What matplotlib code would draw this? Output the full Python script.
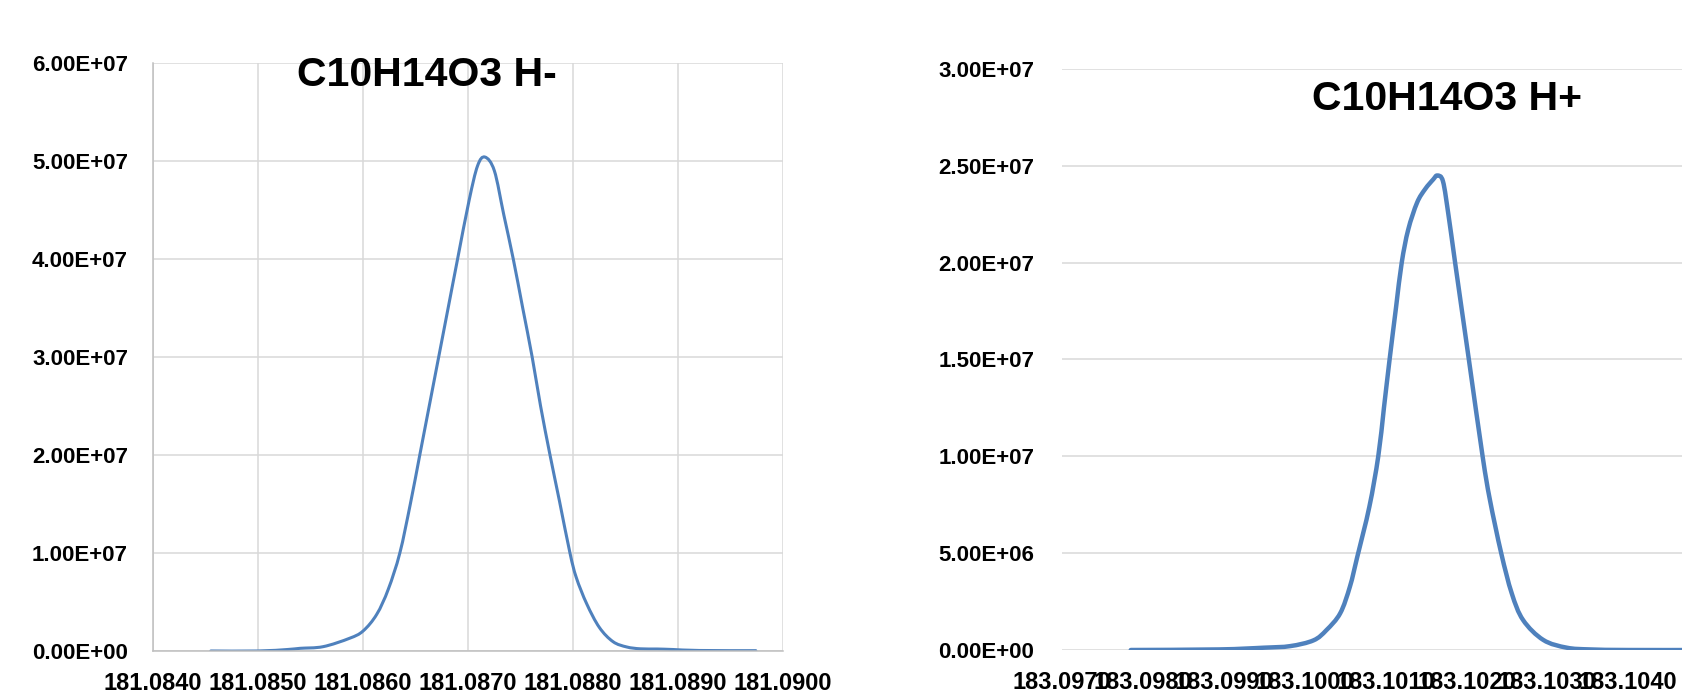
import matplotlib
matplotlib.use("Agg")
import matplotlib.pyplot as plt
from matplotlib.path import Path
from matplotlib.patches import PathPatch
from matplotlib.ticker import FuncFormatter, MultipleLocator
import numpy as np

plt.rcParams['font.family'] = ['Liberation Sans', 'DejaVu Sans']
plt.rcParams['font.weight'] = 'bold'

# negative mode peak (m/z, intensity)
mz_neg = [181.08455, 181.08500, 181.08528, 181.08540, 181.08562, 181.08587,
          181.08600, 181.08613, 181.08624, 181.08635, 181.08645, 181.08654,
          181.08663, 181.08672, 181.08681, 181.08690, 181.08701, 181.08709,
          181.08716, 181.08725, 181.08734, 181.08743, 181.08752, 181.08761,
          181.08769, 181.08778, 181.08787, 181.08797, 181.08803, 181.08813,
          181.08825, 181.08838, 181.08851, 181.08864, 181.08880, 181.08895,
          181.08920, 181.08974]
int_neg = [0, 0, 1.5e5, 2.7e5, 4.4e5, 1.29e6,
           2.04e6, 3.74e6, 6.3e6, 1.0e7, 1.5e7, 2.0e7,
           2.5e7, 3.0e7, 3.5e7, 4.0e7, 4.6e7, 4.95e7,
           5.04e7, 4.9e7, 4.45e7, 4.0e7, 3.5e7, 3.0e7,
           2.5e7, 2.0e7, 1.53e7, 1.0e7, 7.5e6, 4.8e6,
           2.4e6, 9.5e5, 4.1e5, 2.2e5, 2.0e5, 1.5e5,
           5e4, 3e4]

# positive mode peak
mz_pos = [183.09785, 183.09894, 183.09950, 183.09982, 183.10011, 183.10027,
          183.10044, 183.10056, 183.10065, 183.10080, 183.10091, 183.10098,
          183.10105, 183.10113, 183.10120, 183.10128, 183.10139, 183.10149,
          183.10159, 183.10164, 183.10171, 183.10178, 183.10186, 183.10203,
          183.10220, 183.10229, 183.10243, 183.10256, 183.10270, 183.10295,
          183.10324, 183.10353, 183.10400, 183.10490]
int_pos = [0, 3.0e4, 1.2e5, 2.0e5, 5.0e5, 1.03e6,
           1.9e6, 3.28e6, 4.8e6, 7.4e6, 1.0e7, 1.25e7,
           1.5e7, 1.77e7, 2.0e7, 2.17e7, 2.31e7, 2.38e7,
           2.43e7, 2.45e7, 2.42e7, 2.24e7, 2.0e7, 1.5e7,
           1.0e7, 7.76e6, 5.0e6, 2.93e6, 1.55e6, 5.2e5,
           1.2e5, 3e4, 0, 0]

titles = ["C10H14O3 H-", "C10H14O3 H+"]

blue = "#4F81BD"
grid_col = "#D9D9D9"


def smooth_line(ax, xs, ys, color, lw):
    # excel-like smoothed line: cubic bezier through the points (catmull-rom)
    x0, x1 = ax.get_xlim()
    y0, y1 = ax.get_ylim()
    p = np.column_stack([(np.asarray(xs) - x0) / (x1 - x0),
                         (np.asarray(ys) - y0) / (y1 - y0)])
    verts = [p[0]]
    codes = [Path.MOVETO]
    n = len(p)
    for i in range(n - 1):
        pm = p[i - 1] if i > 0 else p[i]
        pn = p[i + 2] if i + 2 < n else p[i + 1]
        c1 = p[i] + (p[i + 1] - pm) / 6
        c2 = p[i + 1] - (pn - p[i]) / 6
        verts += [c1, c2, p[i + 1]]
        codes += [Path.CURVE4] * 3
    patch = PathPatch(Path(verts, codes), transform=ax.transAxes,
                      fill=False, edgecolor=color, lw=lw,
                      capstyle='round', joinstyle='round')
    ax.add_patch(patch)


fig = plt.figure(figsize=(16.82, 6.94), dpi=100)

sci = FuncFormatter(lambda v, p: f"{v:.2E}")
mz_fmt = FuncFormatter(lambda v, p: f"{v:.4f}")

# left panel
ax1 = fig.add_axes([0.0910, 0.0620, 0.3746, 0.8473])
ax1.set_xlim(181.084, 181.090)
ax1.set_ylim(0, 6e7)
smooth_line(ax1, mz_neg, int_neg, blue, 2.2)
ax1.set_xticks(np.arange(181.084, 181.0901, 0.001))
ax1.yaxis.set_major_locator(MultipleLocator(1e7))
ax1.grid(True, color=grid_col, lw=1.1)
ax1.set_axisbelow(True)
for s in ['top', 'right']:
    ax1.spines[s].set_visible(False)
for s in ['left', 'bottom']:
    ax1.spines[s].set_color("#BFBFBF")
    ax1.spines[s].set_linewidth(1.1)

# right panel, runs past the right edge of the figure
ax2 = fig.add_axes([0.6314, 0.0634, 0.3847, 0.8372])
ax2.set_xlim(183.097, 183.105)
ax2.set_ylim(0, 3e7)
smooth_line(ax2, mz_pos, int_pos, blue, 3.2)
ax2.set_xticks(np.arange(183.097, 183.1041, 0.001))
ax2.yaxis.set_major_locator(MultipleLocator(5e6))
ax2.grid(True, axis='y', color=grid_col, lw=1.1)
ax2.set_axisbelow(True)
for s in ax2.spines.values():
    s.set_visible(False)

for ax, pad in [(ax1, 18), (ax2, 20)]:
    ax.yaxis.set_major_formatter(sci)
    ax.xaxis.set_major_formatter(mz_fmt)
    ax.tick_params(axis='y', length=0, pad=pad, labelsize=16)
    ax.tick_params(axis='x', length=0, pad=15, labelsize=17)
    for lab in ax.get_xticklabels() + ax.get_yticklabels():
        lab.set_fontweight('bold')

fig.text(0.2536, 0.8761, titles[0], ha='center', va='baseline',
         fontsize=29.5, fontweight='bold')
fig.text(0.8600, 0.8415, titles[1], ha='center', va='baseline',
         fontsize=29.5, fontweight='bold')

fig.savefig("out.png", dpi=100)
